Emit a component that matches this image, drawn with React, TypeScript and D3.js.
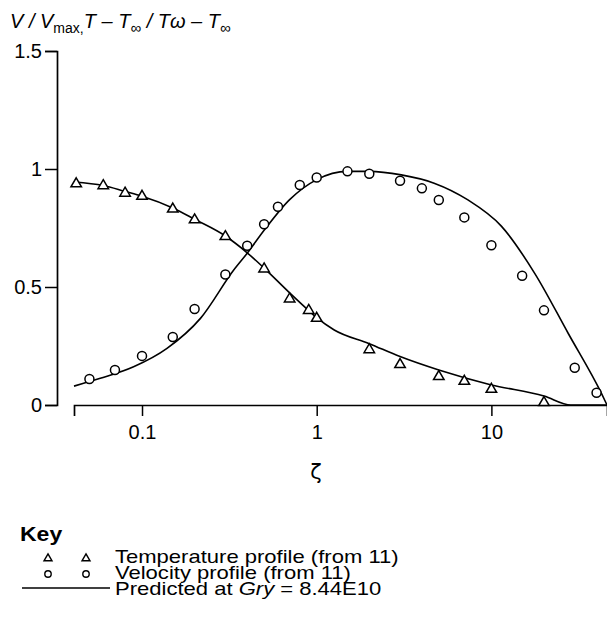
import React, { useEffect, useRef } from "react";
import * as d3 from "d3";

const width = 607;
const height = 617;

// measured points (from 11)
const tempZeta = [0.042, 0.06, 0.08, 0.1, 0.15, 0.2, 0.3, 0.5, 0.7, 0.9, 1.0, 2, 3, 5, 7, 10, 20];
const tempVal = [0.94, 0.932, 0.9, 0.887, 0.833, 0.787, 0.716, 0.579, 0.452, 0.403, 0.37, 0.237, 0.174, 0.123, 0.103, 0.069, 0.013];

const velZeta = [0.05, 0.07, 0.1, 0.15, 0.2, 0.3, 0.4, 0.5, 0.6, 0.8, 1.0, 1.5, 2, 3, 4, 5, 7, 10, 15, 20, 30, 40];
const velVal = [0.11, 0.148, 0.208, 0.288, 0.407, 0.553, 0.675, 0.766, 0.84, 0.932, 0.964, 0.99, 0.98, 0.95, 0.918, 0.869, 0.795, 0.677, 0.548, 0.401, 0.158, 0.052];

// predicted curves (Gry = 8.44E10)
const predTempZeta = [0.0408, 0.06, 0.08, 0.1, 0.15, 0.2, 0.3, 0.4, 0.5, 0.7, 0.9, 1.0, 1.26, 2, 3, 5, 10, 20, 28.5, 45.9];
const predTempVal = [0.945, 0.93, 0.905, 0.885, 0.835, 0.787, 0.716, 0.645, 0.58, 0.475, 0.4, 0.37, 0.318, 0.26, 0.205, 0.148, 0.085, 0.038, 0, 0];

const predVelZeta = [0.0408, 0.0577, 0.0895, 0.139, 0.216, 0.335, 0.4, 0.5, 0.7, 1.0, 1.5, 2, 3.05, 4.7, 7.3, 11.4, 17.7, 27.5, 42.6, 45.9];
const predVelVal = [0.08, 0.113, 0.162, 0.24, 0.367, 0.572, 0.643, 0.74, 0.87, 0.955, 0.99, 0.99, 0.975, 0.94, 0.87, 0.758, 0.558, 0.304, 0.05, 0];

const yTicks = [0, 0.5, 1, 1.5];
const xTicks = [0.1, 1, 10];

const legendLabels = ["Temperature profile (from 11)", "Velocity profile (from 11)", "Predicted at "];

const font = "'Liberation Sans', Arial, sans-serif";

export default function App() {
  const xAxisRef = useRef<SVGGElement>(null);
  const yAxisRef = useRef<SVGGElement>(null);

  const x = d3.scaleLog().domain([0.0408, 45.9]).range([74, 607]);
  const y = d3.scaleLinear().domain([0, 1.5]).range([405, 51]);

  useEffect(() => {
    const xa = d3
      .axisBottom(x)
      .tickValues(xTicks)
      .tickFormat((d) => String(d))
      .tickSizeOuter(0)
      .tickSize(11)
      .tickPadding(9);
    const gx = d3.select(xAxisRef.current!);
    gx.call(xa as any);
    gx.select(".domain").attr("stroke-width", 1.7);
    gx.selectAll(".tick line").attr("stroke-width", 1.5);
    gx.selectAll(".tick text").attr("font-size", 20).attr("font-family", font).attr("fill", "#000");

    const ya = d3
      .axisLeft(y)
      .tickValues(yTicks)
      .tickFormat((d) => String(d))
      .tickSizeOuter(0)
      .tickSize(12)
      .tickPadding(3);
    const gy = d3.select(yAxisRef.current!);
    gy.call(ya as any);
    gy.select(".domain").attr("stroke-width", 1.7);
    gy.selectAll(".tick line").attr("stroke-width", 1.5);
    gy.selectAll(".tick text").attr("font-size", 20).attr("font-family", font).attr("fill", "#000");
  }, []);

  const line = d3
    .line<[number, number]>()
    .x((d) => x(d[0]))
    .y((d) => y(d[1]))
    .curve(d3.curveMonotoneX);

  const tempPath = line(predTempZeta.map((z, i) => [z, predTempVal[i]] as [number, number]));
  const velPath = line(predVelZeta.map((z, i) => [z, predVelVal[i]] as [number, number]));

  const tri = (cx: number, cy: number, w: number, h: number) =>
    `M${cx},${cy - h * 0.6}L${cx + w / 2},${cy + h * 0.4}L${cx - w / 2},${cy + h * 0.4}Z`;

  return (
    <svg
      width={width}
      height={height}
      style={{ position: "absolute", left: 0, top: 0, background: "#fff" }}
    >
      <rect width={width} height={height} fill="#fff" />
      <text x={10} y={28} fontFamily={font} fontSize={20} fill="#000">
        <tspan fontStyle="italic">V / V</tspan>
        <tspan fontSize={14} dy={5}>max,</tspan>
        <tspan fontStyle="italic" dy={-5}>T – T</tspan>
        <tspan fontSize={15} dy={5}>∞</tspan>
        <tspan fontStyle="italic" dy={-5}> / Tω – T</tspan>
        <tspan fontSize={15} dy={5}>∞</tspan>
      </text>

      <g ref={yAxisRef} transform="translate(57,0)" />
      <g ref={xAxisRef} transform="translate(0,405)" />

      <text x={316} y={479} fontFamily="'DejaVu Sans', sans-serif" fontSize={21} textAnchor="middle" fill="#000">
        ζ
      </text>

      <path d={tempPath ?? ""} fill="none" stroke="#000" strokeWidth={1.6} />
      <path d={velPath ?? ""} fill="none" stroke="#000" strokeWidth={1.6} />

      {tempZeta.map((z, i) => (
        <path key={`t${i}`} d={tri(x(z), y(tempVal[i]), 10.5, 9)} fill="#fff" stroke="#000" strokeWidth={1.5} />
      ))}
      {velZeta.map((z, i) => (
        <circle key={`v${i}`} cx={x(z)} cy={y(velVal[i])} r={4.5} fill="#fff" stroke="#000" strokeWidth={1.5} />
      ))}

      <g fontFamily={font} fontSize={19} fill="#000">
        <text transform="translate(20,541) scale(1.15,1)" fontSize={20} fontWeight="bold">Key</text>
        <path d={tri(48, 558, 8, 7)} fill="#fff" stroke="#000" strokeWidth={1.4} />
        <path d={tri(86, 558, 8, 7)} fill="#fff" stroke="#000" strokeWidth={1.4} />
        <text transform="translate(115,563) scale(1.16,1)">{legendLabels[0]}</text>
        <circle cx={48} cy={574} r={3.2} fill="#fff" stroke="#000" strokeWidth={1.4} />
        <circle cx={86} cy={574} r={3.2} fill="#fff" stroke="#000" strokeWidth={1.4} />
        <text transform="translate(115,579) scale(1.16,1)">{legendLabels[1]}</text>
        <line x1={22} x2={110} y1={588} y2={588} stroke="#000" strokeWidth={1.5} />
        <text transform="translate(115,595) scale(1.16,1)">
          {legendLabels[2]}
          <tspan fontStyle="italic">Gry</tspan>
          <tspan> = 8.44E10</tspan>
        </text>
      </g>
    </svg>
  );
}
